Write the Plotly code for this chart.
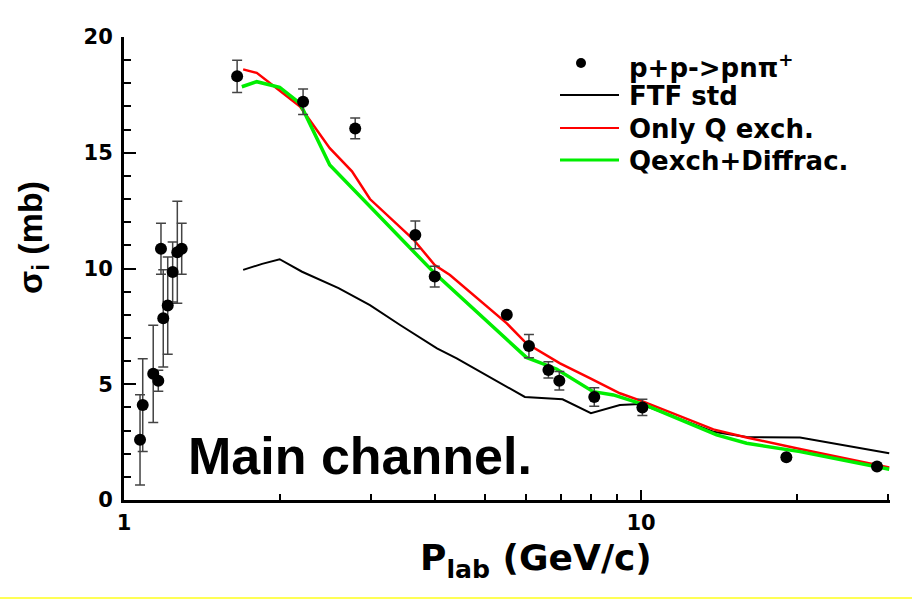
import plotly.graph_objects as go

# ---- data ----
exp_x = [1.074, 1.087, 1.139, 1.165, 1.179, 1.191, 1.215, 1.242, 1.268, 1.293,
         1.655, 2.22, 2.80, 3.66, 3.99, 5.50, 6.07, 6.62, 6.95, 8.12, 10.06, 19.1, 28.6]
exp_y = [2.6, 4.1, 5.45, 5.15, 10.85, 7.85, 8.4, 9.85, 10.7, 10.85,
         18.3, 17.2, 16.05, 11.45, 9.65, 8.0, 6.65, 5.62, 5.15, 4.45, 4.0, 1.85, 1.45]
exp_err = [1.95, 2.0, 2.1, 0.45, 1.1, 2.1, 2.1, 1.3, 2.2, 1.1,
           0.7, 0.55, 0.45, 0.6, 0.45, 0.1, 0.5, 0.35, 0.4, 0.4, 0.35, 0.1, 0.1]

ftf_x = [1.70, 1.85, 2.0, 2.21, 2.60, 2.99, 3.42, 4.03, 4.40, 5.96, 7.05, 8.0, 9.1, 9.96, 13.8, 16.0, 20.3, 30.2]
ftf_y = [9.94, 10.2, 10.4, 9.86, 9.15, 8.42, 7.56, 6.55, 6.12, 4.45, 4.35, 3.75, 4.1, 4.15, 2.95, 2.72, 2.7, 2.02]

q_x = [1.70, 1.806, 2.19, 2.50, 2.76, 2.99, 3.63, 3.99, 4.27, 5.50, 6.0, 6.97, 7.96, 9.1, 10.1, 13.8, 16.0, 20.3, 30.2]
q_y = [18.6, 18.45, 17.0, 15.2, 14.2, 13.0, 11.25, 10.15, 9.72, 7.63, 6.77, 5.9, 5.26, 4.61, 4.25, 3.05, 2.7, 2.2, 1.4]

qd_x = [1.69, 1.806, 2.0, 2.19, 2.50, 3.99, 6.0, 6.86, 8.08, 8.84, 10.2, 14.0, 16.0, 20.3, 30.2]
qd_y = [17.85, 18.07, 17.83, 17.13, 14.47, 9.79, 6.16, 5.66, 4.68, 4.54, 4.1, 2.81, 2.45, 2.09, 1.33]

legend_labels = ["p+p-&gt;pn\u03c0<sup>+</sup>", "FTF std", "Only Q exch.", "Qexch+Diffrac."]
legend_colors = ["black", "black", "#ff0000", "#00ee00"]

x_ticks = [1, 10]
x_minor = [2, 3, 4, 5, 6, 7, 8, 9, 20, 30]

# ---- figure ----
W, H = 912, 607
L, R, T, B = 124, 22, 37, 107
pw, ph = W - L - R, H - T - B

def px(x):
    return (x - L) / pw

def py(y):
    return (H - B - y) / ph

fig = go.Figure()

fig.add_trace(go.Scatter(x=ftf_x, y=ftf_y, mode="lines",
                         line=dict(color="black", width=2), showlegend=False))
fig.add_trace(go.Scatter(x=q_x, y=q_y, mode="lines",
                         line=dict(color="#ff0000", width=2.5), showlegend=False))
fig.add_trace(go.Scatter(x=qd_x, y=qd_y, mode="lines",
                         line=dict(color="#00ee00", width=3.5), showlegend=False))
fig.add_trace(go.Scatter(x=exp_x, y=exp_y, mode="markers",
                         marker=dict(color="black", size=12),
                         error_y=dict(type="data", array=exp_err, color="#444444",
                                      thickness=1.5, width=5),
                         showlegend=False))

axis_font = dict(family="DejaVu Sans", size=21, color="black", weight="bold")

fig.update_xaxes(type="log", range=[0, 1.4815], showline=True, linewidth=3,
                 linecolor="black", mirror=False, showgrid=False, zeroline=False,
                 ticks="inside", ticklen=10, tickwidth=2, tickcolor="black",
                 tickvals=x_ticks, ticktext=[str(v) for v in x_ticks],
                 tickfont=axis_font, ticklabelstandoff=2,
                 minor=dict(tickvals=x_minor, ticks="inside", ticklen=6,
                            tickwidth=2, tickcolor="black", showgrid=False))
fig.update_yaxes(range=[0, 20], showline=True, linewidth=3, linecolor="black",
                 mirror=False, showgrid=False, zeroline=False,
                 ticks="inside", ticklen=12, tickwidth=2, tickcolor="black",
                 dtick=5, tick0=0, tickfont=axis_font, ticklabelstandoff=4,
                 minor=dict(dtick=1, ticks="inside", ticklen=7, tickwidth=2,
                            tickcolor="black", showgrid=False))

ann = []
# axis titles
ann.append(dict(text="P<sub>lab</sub> (GeV/c)", xref="paper", yref="paper",
                x=px(536), y=py(560), xanchor="center", yanchor="middle",
                showarrow=False,
                font=dict(family="DejaVu Sans", size=36, color="black", weight="bold")))
ann.append(dict(text="\u03c3<sub>i</sub> (mb)", xref="paper", yref="paper",
                x=px(32), y=py(238), xanchor="center", yanchor="middle",
                textangle=-90, showarrow=False,
                font=dict(family="Liberation Sans", size=34, color="black", weight="bold")))
# big label
ann.append(dict(text="Main channel.", xref="paper", yref="paper",
                x=px(186), y=py(456), xanchor="left", yanchor="middle",
                showarrow=False,
                font=dict(family="Liberation Sans", size=52, color="black", weight="bold")))

# manual legend
leg_y = [66, 96, 129, 161]
shapes = []
for i, (lab, col) in enumerate(zip(legend_labels, legend_colors)):
    ann.append(dict(text=lab, xref="paper", yref="paper", x=px(627), y=py(leg_y[i]),
                    xanchor="left", yanchor="middle", showarrow=False,
                    font=dict(family="DejaVu Sans", size=26, color="black", weight="bold")))
    if i == 0:
        shapes.append(dict(type="circle", xref="paper", yref="paper",
                           x0=px(576), x1=px(586), y0=py(68), y1=py(58),
                           fillcolor="black", line=dict(color="black", width=0)))
    else:
        shapes.append(dict(type="line", xref="paper", yref="paper",
                           x0=px(560), x1=px(619), y0=py(leg_y[i] - 1), y1=py(leg_y[i] - 1),
                           line=dict(color=col, width=2 if i < 3 else 3)))

# yellow bottom border line
shapes.append(dict(type="line", xref="paper", yref="paper",
                   x0=px(0), x1=px(W), y0=py(598), y1=py(598),
                   line=dict(color="#ffff55", width=2)))

fig.update_layout(width=W, height=H, margin=dict(l=L, r=R, t=T, b=B),
                  plot_bgcolor="white", paper_bgcolor="white",
                  annotations=ann, shapes=shapes, showlegend=False)

fig.write_html("out.html")
